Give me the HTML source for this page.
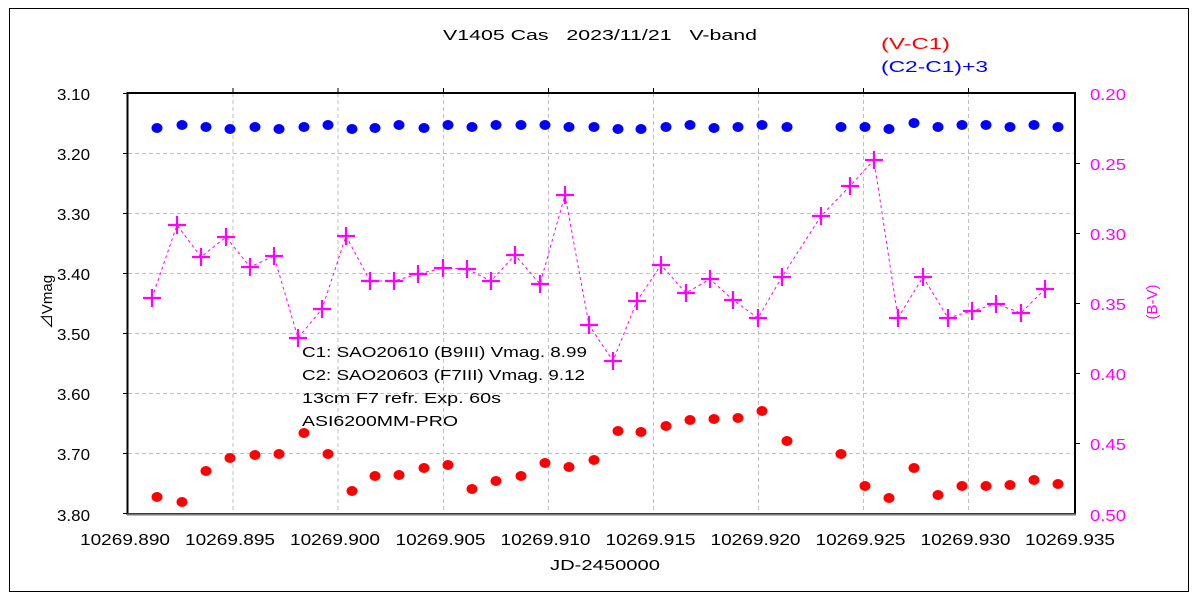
<!DOCTYPE html>
<html><head><meta charset="utf-8"><style>
html,body{margin:0;padding:0;background:#fff}
svg{display:block}
text{font-family:"Liberation Sans","Noto Sans CJK JP",sans-serif}
</style></head><body>
<svg width="1200" height="600" viewBox="0 0 1200 600" xmlns="http://www.w3.org/2000/svg">
<defs><path id="c" d="M-9 0h18M0-9v18" stroke="#f0f" stroke-width="2.2" fill="none"/></defs>
<rect x="9.5" y="8.5" width="1179" height="583" fill="#fff" stroke="#000" stroke-width="1"/>
<g stroke="#c0c0c0" stroke-width="1" stroke-dasharray="4,3">
<line x1="233" y1="93" x2="233" y2="514"/><line x1="338" y1="93" x2="338" y2="514"/><line x1="443.5" y1="93" x2="443.5" y2="514"/><line x1="548.5" y1="93" x2="548.5" y2="514"/><line x1="653.5" y1="93" x2="653.5" y2="514"/><line x1="758.5" y1="93" x2="758.5" y2="514"/><line x1="863.5" y1="93" x2="863.5" y2="514"/><line x1="968.5" y1="93" x2="968.5" y2="514"/>
<line x1="128" y1="153.5" x2="1075" y2="153.5"/><line x1="128" y1="213.5" x2="1075" y2="213.5"/><line x1="128" y1="273.5" x2="1075" y2="273.5"/><line x1="128" y1="333.5" x2="1075" y2="333.5"/><line x1="128" y1="393.5" x2="1075" y2="393.5"/><line x1="128" y1="453.5" x2="1075" y2="453.5"/>
</g>
<g stroke="#000" stroke-width="1">
<line x1="123" y1="93.5" x2="128" y2="93.5"/><line x1="123" y1="153.5" x2="128" y2="153.5"/><line x1="123" y1="213.5" x2="128" y2="213.5"/><line x1="123" y1="273.5" x2="128" y2="273.5"/><line x1="123" y1="333.5" x2="128" y2="333.5"/><line x1="123" y1="393.5" x2="128" y2="393.5"/><line x1="123" y1="453.5" x2="128" y2="453.5"/><line x1="123" y1="513.5" x2="128" y2="513.5"/>
<line x1="1075" y1="163.5" x2="1080" y2="163.5"/><line x1="1075" y1="233.5" x2="1080" y2="233.5"/><line x1="1075" y1="303.5" x2="1080" y2="303.5"/><line x1="1075" y1="373.5" x2="1080" y2="373.5"/><line x1="1075" y1="443.5" x2="1080" y2="443.5"/>
<line x1="233" y1="88" x2="233" y2="93"/><line x1="338" y1="88" x2="338" y2="93"/><line x1="443.5" y1="88" x2="443.5" y2="93"/><line x1="548.5" y1="88" x2="548.5" y2="93"/><line x1="653.5" y1="88" x2="653.5" y2="93"/><line x1="758.5" y1="88" x2="758.5" y2="93"/><line x1="863.5" y1="88" x2="863.5" y2="93"/><line x1="968.5" y1="88" x2="968.5" y2="93"/>
</g>
<rect x="127.5" y="93" width="947.5" height="421" fill="none" stroke="#000" stroke-width="2"/>
<line x1="127" y1="514.5" x2="1076" y2="514.5" stroke="#777" stroke-width="2"/>

<text x="443" y="40" font-size="15" fill="#000" xml:space="preserve" textLength="314" lengthAdjust="spacingAndGlyphs">V1405 Cas   2023/11/21   V-band</text>
<text x="881" y="49" font-size="16" fill="#f00" textLength="69" lengthAdjust="spacingAndGlyphs">(V-C1)</text>
<text x="881" y="72" font-size="16" fill="#00f" textLength="107" lengthAdjust="spacingAndGlyphs">(C2-C1)+3</text>

<g font-size="16" fill="#000">
<text x="57" y="100" textLength="33" lengthAdjust="spacingAndGlyphs">3.10</text><text x="57" y="160" textLength="33" lengthAdjust="spacingAndGlyphs">3.20</text><text x="57" y="220" textLength="33" lengthAdjust="spacingAndGlyphs">3.30</text><text x="57" y="280" textLength="33" lengthAdjust="spacingAndGlyphs">3.40</text><text x="57" y="340" textLength="33" lengthAdjust="spacingAndGlyphs">3.50</text><text x="57" y="400" textLength="33" lengthAdjust="spacingAndGlyphs">3.60</text><text x="57" y="460" textLength="33" lengthAdjust="spacingAndGlyphs">3.70</text><text x="57" y="521" textLength="33" lengthAdjust="spacingAndGlyphs">3.80</text>
</g>
<g font-size="16" fill="#f0f">
<text x="1090" y="100" textLength="36" lengthAdjust="spacingAndGlyphs">0.20</text><text x="1090" y="170" textLength="36" lengthAdjust="spacingAndGlyphs">0.25</text><text x="1090" y="240" textLength="36" lengthAdjust="spacingAndGlyphs">0.30</text><text x="1090" y="310" textLength="36" lengthAdjust="spacingAndGlyphs">0.35</text><text x="1090" y="380" textLength="36" lengthAdjust="spacingAndGlyphs">0.40</text><text x="1090" y="450" textLength="36" lengthAdjust="spacingAndGlyphs">0.45</text><text x="1090" y="521" textLength="36" lengthAdjust="spacingAndGlyphs">0.50</text>
</g>
<g font-size="16" fill="#000">
<text x="80" y="545" textLength="90" lengthAdjust="spacingAndGlyphs">10269.890</text><text x="185" y="545" textLength="90" lengthAdjust="spacingAndGlyphs">10269.895</text><text x="290" y="545" textLength="90" lengthAdjust="spacingAndGlyphs">10269.900</text><text x="395.5" y="545" textLength="90" lengthAdjust="spacingAndGlyphs">10269.905</text><text x="500.5" y="545" textLength="90" lengthAdjust="spacingAndGlyphs">10269.910</text><text x="605.5" y="545" textLength="90" lengthAdjust="spacingAndGlyphs">10269.915</text><text x="710.5" y="545" textLength="90" lengthAdjust="spacingAndGlyphs">10269.920</text><text x="815.5" y="545" textLength="90" lengthAdjust="spacingAndGlyphs">10269.925</text><text x="920.5" y="545" textLength="90" lengthAdjust="spacingAndGlyphs">10269.930</text><text x="1025" y="545" textLength="90" lengthAdjust="spacingAndGlyphs">10269.935</text>
</g>
<text x="550" y="570" font-size="15" textLength="110" lengthAdjust="spacingAndGlyphs">JD-2450000</text>
<text transform="translate(52,302) rotate(-90)" font-size="15" text-anchor="middle">⊿Vmag</text>
<text transform="translate(1157,302) rotate(-90)" font-size="15" text-anchor="middle" fill="#f0f">(B-V)</text>

<g font-size="15" fill="#000">
<text x="302" y="357" textLength="285" lengthAdjust="spacingAndGlyphs">C1: SAO20610 (B9III) Vmag. 8.99</text>
<text x="302" y="380" textLength="283" lengthAdjust="spacingAndGlyphs">C2: SAO20603 (F7III) Vmag. 9.12</text>
<text x="302" y="403" textLength="199" lengthAdjust="spacingAndGlyphs">13cm F7 refr.  Exp. 60s</text>
<text x="302" y="426" textLength="156" lengthAdjust="spacingAndGlyphs">ASI6200MM-PRO</text>
</g>

<polyline fill="none" stroke="#f0f" stroke-width="1" stroke-dasharray="3,3" points="152,298 177,225 201,257 226,237 250,267 274,256 298,338 322,309 346,236 370,281 394,281 418,274 443,268 467,269 491,281 515,255 540,284 565,195 589,325 613,361 637,301 661,265 686,293 710,279 733,300 758,318 782,277 821,216 850,186 874,160 898,318 923,277 948,318 972,311 996,304 1021,313 1045,289"/>
<g>
<use href="#c" x="152" y="298"/><use href="#c" x="177" y="225"/><use href="#c" x="201" y="257"/><use href="#c" x="226" y="237"/><use href="#c" x="250" y="267"/><use href="#c" x="274" y="256"/><use href="#c" x="298" y="338"/><use href="#c" x="322" y="309"/><use href="#c" x="346" y="236"/><use href="#c" x="370" y="281"/><use href="#c" x="394" y="281"/><use href="#c" x="418" y="274"/><use href="#c" x="443" y="268"/><use href="#c" x="467" y="269"/><use href="#c" x="491" y="281"/><use href="#c" x="515" y="255"/><use href="#c" x="540" y="284"/><use href="#c" x="565" y="195"/><use href="#c" x="589" y="325"/><use href="#c" x="613" y="361"/><use href="#c" x="637" y="301"/><use href="#c" x="661" y="265"/><use href="#c" x="686" y="293"/><use href="#c" x="710" y="279"/><use href="#c" x="733" y="300"/><use href="#c" x="758" y="318"/><use href="#c" x="782" y="277"/><use href="#c" x="821" y="216"/><use href="#c" x="850" y="186"/><use href="#c" x="874" y="160"/><use href="#c" x="898" y="318"/><use href="#c" x="923" y="277"/><use href="#c" x="948" y="318"/><use href="#c" x="972" y="311"/><use href="#c" x="996" y="304"/><use href="#c" x="1021" y="313"/><use href="#c" x="1045" y="289"/>
</g>

<g fill="#00f">
<ellipse cx="157" cy="128" rx="5.5" ry="5"/><ellipse cx="182" cy="125" rx="5.5" ry="5"/><ellipse cx="206" cy="127" rx="5.5" ry="5"/><ellipse cx="230" cy="129" rx="5.5" ry="5"/><ellipse cx="255" cy="127" rx="5.5" ry="5"/><ellipse cx="279" cy="129" rx="5.5" ry="5"/><ellipse cx="304" cy="127" rx="5.5" ry="5"/><ellipse cx="328" cy="125" rx="5.5" ry="5"/><ellipse cx="352" cy="129" rx="5.5" ry="5"/><ellipse cx="375" cy="128" rx="5.5" ry="5"/><ellipse cx="399" cy="125" rx="5.5" ry="5"/><ellipse cx="424" cy="128" rx="5.5" ry="5"/><ellipse cx="448" cy="125" rx="5.5" ry="5"/><ellipse cx="472" cy="127" rx="5.5" ry="5"/><ellipse cx="496" cy="125" rx="5.5" ry="5"/><ellipse cx="521" cy="125" rx="5.5" ry="5"/><ellipse cx="545" cy="125" rx="5.5" ry="5"/><ellipse cx="569" cy="127" rx="5.5" ry="5"/><ellipse cx="594" cy="127" rx="5.5" ry="5"/><ellipse cx="618" cy="129" rx="5.5" ry="5"/><ellipse cx="641" cy="129" rx="5.5" ry="5"/><ellipse cx="666" cy="127" rx="5.5" ry="5"/><ellipse cx="690" cy="125" rx="5.5" ry="5"/><ellipse cx="714" cy="128" rx="5.5" ry="5"/><ellipse cx="738" cy="127" rx="5.5" ry="5"/><ellipse cx="762" cy="125" rx="5.5" ry="5"/><ellipse cx="787" cy="127" rx="5.5" ry="5"/><ellipse cx="841" cy="127" rx="5.5" ry="5"/><ellipse cx="865" cy="127" rx="5.5" ry="5"/><ellipse cx="889" cy="129" rx="5.5" ry="5"/><ellipse cx="914" cy="123" rx="5.5" ry="5"/><ellipse cx="938" cy="127" rx="5.5" ry="5"/><ellipse cx="962" cy="125" rx="5.5" ry="5"/><ellipse cx="986" cy="125" rx="5.5" ry="5"/><ellipse cx="1010" cy="127" rx="5.5" ry="5"/><ellipse cx="1034" cy="125" rx="5.5" ry="5"/><ellipse cx="1058" cy="127" rx="5.5" ry="5"/>
</g>
<g fill="#f00">
<ellipse cx="157" cy="497" rx="5.5" ry="5"/><ellipse cx="182" cy="502" rx="5.5" ry="5"/><ellipse cx="206" cy="471" rx="5.5" ry="5"/><ellipse cx="230" cy="458" rx="5.5" ry="5"/><ellipse cx="255" cy="455" rx="5.5" ry="5"/><ellipse cx="279" cy="454" rx="5.5" ry="5"/><ellipse cx="304" cy="433" rx="5.5" ry="5"/><ellipse cx="328" cy="454" rx="5.5" ry="5"/><ellipse cx="352" cy="491" rx="5.5" ry="5"/><ellipse cx="375" cy="476" rx="5.5" ry="5"/><ellipse cx="399" cy="475" rx="5.5" ry="5"/><ellipse cx="424" cy="468" rx="5.5" ry="5"/><ellipse cx="448" cy="465" rx="5.5" ry="5"/><ellipse cx="472" cy="489" rx="5.5" ry="5"/><ellipse cx="496" cy="481" rx="5.5" ry="5"/><ellipse cx="521" cy="476" rx="5.5" ry="5"/><ellipse cx="545" cy="463" rx="5.5" ry="5"/><ellipse cx="569" cy="467" rx="5.5" ry="5"/><ellipse cx="594" cy="460" rx="5.5" ry="5"/><ellipse cx="618" cy="431" rx="5.5" ry="5"/><ellipse cx="641" cy="432" rx="5.5" ry="5"/><ellipse cx="666" cy="426" rx="5.5" ry="5"/><ellipse cx="690" cy="420" rx="5.5" ry="5"/><ellipse cx="714" cy="419" rx="5.5" ry="5"/><ellipse cx="738" cy="418" rx="5.5" ry="5"/><ellipse cx="762" cy="411" rx="5.5" ry="5"/><ellipse cx="787" cy="441" rx="5.5" ry="5"/><ellipse cx="841" cy="454" rx="5.5" ry="5"/><ellipse cx="865" cy="486" rx="5.5" ry="5"/><ellipse cx="889" cy="498" rx="5.5" ry="5"/><ellipse cx="914" cy="468" rx="5.5" ry="5"/><ellipse cx="938" cy="495" rx="5.5" ry="5"/><ellipse cx="962" cy="486" rx="5.5" ry="5"/><ellipse cx="986" cy="486" rx="5.5" ry="5"/><ellipse cx="1010" cy="485" rx="5.5" ry="5"/><ellipse cx="1034" cy="480" rx="5.5" ry="5"/><ellipse cx="1058" cy="484" rx="5.5" ry="5"/>
</g>
</svg>
</body></html>
